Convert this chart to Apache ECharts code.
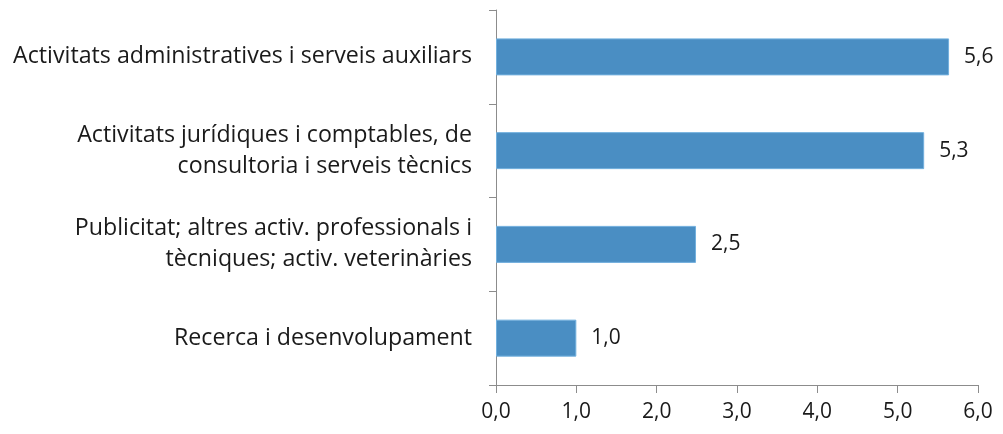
<!DOCTYPE html>
<html>
<head>
<meta charset="utf-8">
<script src="https://cdn.jsdelivr.net/npm/echarts@6/dist/echarts.min.js"></script>
<style>
  html, body { margin: 0; padding: 0; background: #fff; }
  #chart { width: 1003px; height: 434px; }
</style>
</head>
<body>
<div id="chart"></div>
<script>
// categories from bottom to top (category axis starts at the bottom)
const categories = [
  'Recerca i desenvolupament',
  'Publicitat; altres activ. professionals i\ntècniques; activ. veterinàries',
  'Activitats jurídiques i comptables, de\nconsultoria i serveis tècnics',
  'Activitats administratives i serveis auxiliars'
];
const values = [1.0, 2.49, 5.33, 5.64];
const xTicks = [0, 1, 2, 3, 4, 5, 6];

const fontFamily = '"Open Sans", "Noto Sans", sans-serif';
const fmt = v => v.toFixed(1).replace('.', ',');

const chart = echarts.init(document.getElementById('chart'));
chart.setOption({
  animation: false,
  grid: { left: 496, right: 25, top: 10, bottom: 49 },
  xAxis: {
    type: 'value',
    min: xTicks[0],
    max: xTicks[xTicks.length - 1],
    interval: 1,
    splitLine: { show: false },
    axisLine: { show: true, lineStyle: { color: '#8c8c8c', width: 1 } },
    axisTick: { show: true, length: 8, lineStyle: { color: '#8c8c8c' } },
    axisLabel: {
      margin: 17,
      color: '#1a1a1a',
      fontSize: 21,
      fontFamily: fontFamily,
      formatter: v => fmt(v)
    }
  },
  yAxis: {
    type: 'category',
    data: categories,
    axisLine: { show: true, lineStyle: { color: '#8c8c8c', width: 1 } },
    axisTick: { show: true, length: 7, lineStyle: { color: '#8c8c8c' } },
    axisLabel: {
      margin: 24,
      color: '#1a1a1a',
      fontSize: 23.2,
      lineHeight: 31,
      fontFamily: fontFamily,
      align: 'right'
    }
  },
  series: [{
    type: 'bar',
    data: values,
    barWidth: 37,
    itemStyle: { color: '#4a8ec3', borderColor: '#72b0de', borderWidth: 1 },
    label: {
      show: true,
      position: 'right',
      distance: 15,
      color: '#1a1a1a',
      fontSize: 21,
      fontFamily: fontFamily,
      formatter: p => fmt(p.value)
    }
  }]
});
</script>
</body>
</html>
